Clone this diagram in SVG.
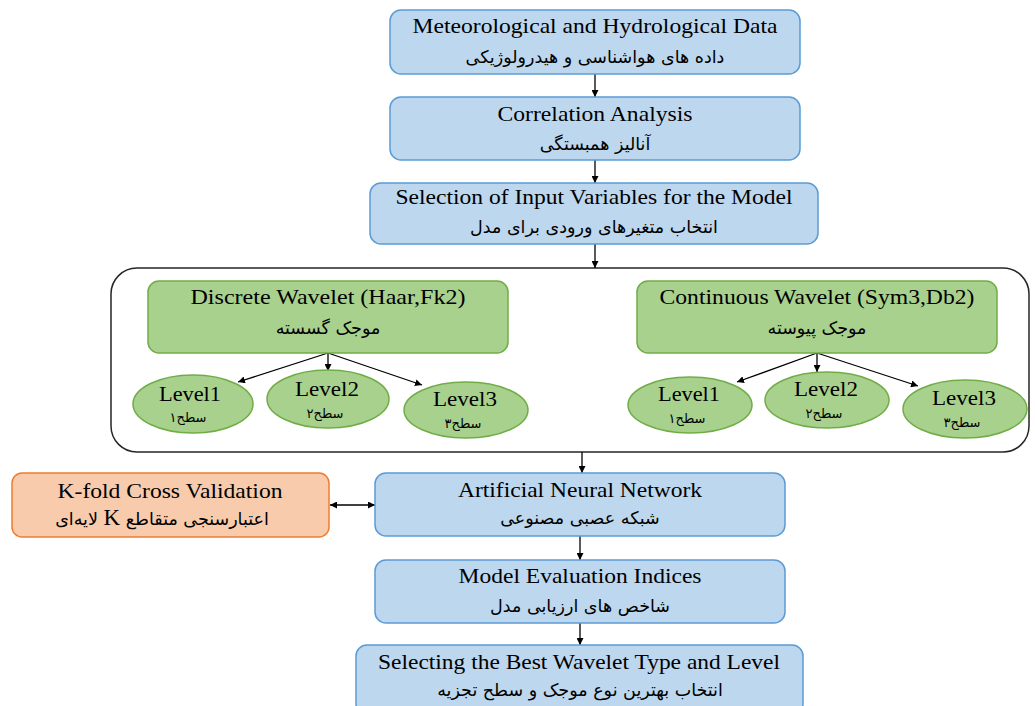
<svg xmlns="http://www.w3.org/2000/svg" width="1035" height="706" viewBox="0 0 1035 706">
<defs>
<marker id="ah" viewBox="0 0 10 10" refX="10" refY="5" markerWidth="7" markerHeight="7" markerUnits="userSpaceOnUse" orient="auto-start-reverse">
<path d="M0,0 L10,5 L0,10 z" fill="#000"/>
</marker>
<style>
.blue{fill:#BDD7EE;stroke:#5B9BD5;stroke-width:1.5}
.green{fill:#A9D18E;stroke:#70AD47;stroke-width:1.5}
.orange{fill:#F8CBAD;stroke:#ED7D31;stroke-width:1.5}
.cont{fill:#fff;stroke:#262626;stroke-width:1.5}
.en{font-family:"Liberation Serif","Times New Roman",serif;font-size:22px;fill:#000;text-anchor:middle}
.fa{font-family:"DejaVu Sans","Noto Sans",sans-serif;font-size:17.5px;fill:#000;text-anchor:middle}
.faS{font-family:"DejaVu Sans","Noto Sans",sans-serif;font-size:13px;fill:#000;text-anchor:middle}
.k{font-family:"Liberation Serif",serif;font-size:23px}
.c{stroke:#000;stroke-width:1.3;fill:none;marker-end:url(#ah)}
.cb{stroke:#000;stroke-width:1.3;fill:none;marker-end:url(#ah);marker-start:url(#ah)}
</style>
</defs>
<rect width="1035" height="706" fill="#fff"/>
<g id="container"><rect class="cont" x="111" y="268" width="918" height="184" rx="26"/></g>
<g id="connectors">
<line class="c" x1="595" y1="74" x2="595" y2="97"/>
<line class="c" x1="595" y1="160" x2="595" y2="183"/>
<line class="c" x1="595" y1="244" x2="595" y2="268"/>
<line class="c" x1="328" y1="353" x2="238" y2="382"/>
<line class="c" x1="328" y1="353" x2="328" y2="371"/>
<line class="c" x1="328" y1="353" x2="422" y2="385"/>
<line class="c" x1="817" y1="353" x2="737" y2="382"/>
<line class="c" x1="817" y1="353" x2="817" y2="372"/>
<line class="c" x1="817" y1="353" x2="918" y2="386"/>
<line class="c" x1="582" y1="452" x2="582" y2="473"/>
<line class="cb" x1="330" y1="505" x2="375" y2="505"/>
<line class="c" x1="580" y1="536" x2="580" y2="560"/>
<line class="c" x1="580" y1="623" x2="580" y2="645"/>
</g>
<g id="n1"><rect class="blue" x="390" y="10" width="410" height="64" rx="11"/>
<text class="en" x="595" y="33" textLength="365" lengthAdjust="spacingAndGlyphs">Meteorological and Hydrological Data</text>
<text class="fa" x="595" y="63" direction="rtl">داده های هواشناسی و هیدرولوژیکی</text></g>
<g id="n2"><rect class="blue" x="390" y="97" width="410" height="63" rx="11"/>
<text class="en" x="595" y="121" textLength="195" lengthAdjust="spacingAndGlyphs">Correlation Analysis</text>
<text class="fa" x="595" y="150" direction="rtl">آنالیز همبستگی</text></g>
<g id="n3"><rect class="blue" x="370" y="183" width="448" height="61" rx="11"/>
<text class="en" x="594" y="204" textLength="397" lengthAdjust="spacingAndGlyphs">Selection of Input Variables for the Model</text>
<text class="fa" x="594" y="233" direction="rtl">انتخاب متغیرهای ورودی برای مدل</text></g>
<g id="n4"><rect class="green" x="148" y="281" width="360" height="72" rx="11"/>
<text class="en" x="328" y="304" textLength="275" lengthAdjust="spacingAndGlyphs">Discrete Wavelet (Haar,Fk2)</text>
<text class="fa" x="328" y="334" direction="rtl">موجک گسسته</text></g>
<g id="n5"><rect class="green" x="637" y="281" width="360" height="72" rx="11"/>
<text class="en" x="817" y="304" textLength="315" lengthAdjust="spacingAndGlyphs">Continuous Wavelet (Sym3,Db2)</text>
<text class="fa" x="817" y="334" direction="rtl">موجک پیوسته</text></g>
<g id="d1"><ellipse class="green" cx="193" cy="404" rx="60" ry="29"/>
<text class="en" x="190" y="401" textLength="62" lengthAdjust="spacingAndGlyphs">Level1</text>
<text class="faS" x="188" y="422" direction="rtl">سطح۱</text></g>
<g id="d2"><ellipse class="green" cx="328" cy="399" rx="61" ry="29"/>
<text class="en" x="327" y="396" textLength="64" lengthAdjust="spacingAndGlyphs">Level2</text>
<text class="faS" x="325" y="418" direction="rtl">سطح۲</text></g>
<g id="d3"><ellipse class="green" cx="466" cy="410" rx="62" ry="28"/>
<text class="en" x="465" y="406" textLength="64" lengthAdjust="spacingAndGlyphs">Level3</text>
<text class="faS" x="463" y="428" direction="rtl">سطح۳</text></g>
<g id="c1"><ellipse class="green" cx="690" cy="405" rx="62" ry="28"/>
<text class="en" x="689" y="401" textLength="62" lengthAdjust="spacingAndGlyphs">Level1</text>
<text class="faS" x="687" y="423" direction="rtl">سطح۱</text></g>
<g id="c2"><ellipse class="green" cx="827" cy="400" rx="62" ry="28"/>
<text class="en" x="826" y="396" textLength="64" lengthAdjust="spacingAndGlyphs">Level2</text>
<text class="faS" x="824" y="418" direction="rtl">سطح۲</text></g>
<g id="c3"><ellipse class="green" cx="965" cy="409" rx="62" ry="29"/>
<text class="en" x="964" y="405" textLength="64" lengthAdjust="spacingAndGlyphs">Level3</text>
<text class="faS" x="962" y="427" direction="rtl">سطح۳</text></g>
<g id="kfold"><rect class="orange" x="12" y="473" width="317" height="64" rx="10"/>
<text class="en" x="170" y="498" textLength="225" lengthAdjust="spacingAndGlyphs">K-fold Cross Validation</text>
<text class="fa" x="162" y="525" direction="rtl">اعتبارسنجی متقاطع <tspan class="k">K</tspan> لایه‌ای</text></g>
<g id="ann"><rect class="blue" x="375" y="473" width="410" height="63" rx="11"/>
<text class="en" x="580" y="497" textLength="244" lengthAdjust="spacingAndGlyphs">Artificial Neural Network</text>
<text class="fa" x="580" y="524" direction="rtl">شبکه عصبی مصنوعی</text></g>
<g id="eval"><rect class="blue" x="375" y="560" width="410" height="63" rx="11"/>
<text class="en" x="580" y="583" textLength="243" lengthAdjust="spacingAndGlyphs">Model Evaluation Indices</text>
<text class="fa" x="580" y="612" direction="rtl">شاخص های ارزیابی مدل</text></g>
<g id="best"><rect class="blue" x="356" y="645" width="447" height="70" rx="11"/>
<text class="en" x="579" y="669" textLength="402" lengthAdjust="spacingAndGlyphs">Selecting the Best Wavelet Type and Level</text>
<text class="fa" x="580" y="696" direction="rtl">انتخاب بهترین نوع موجک و سطح تجزیه</text></g>
</svg>
